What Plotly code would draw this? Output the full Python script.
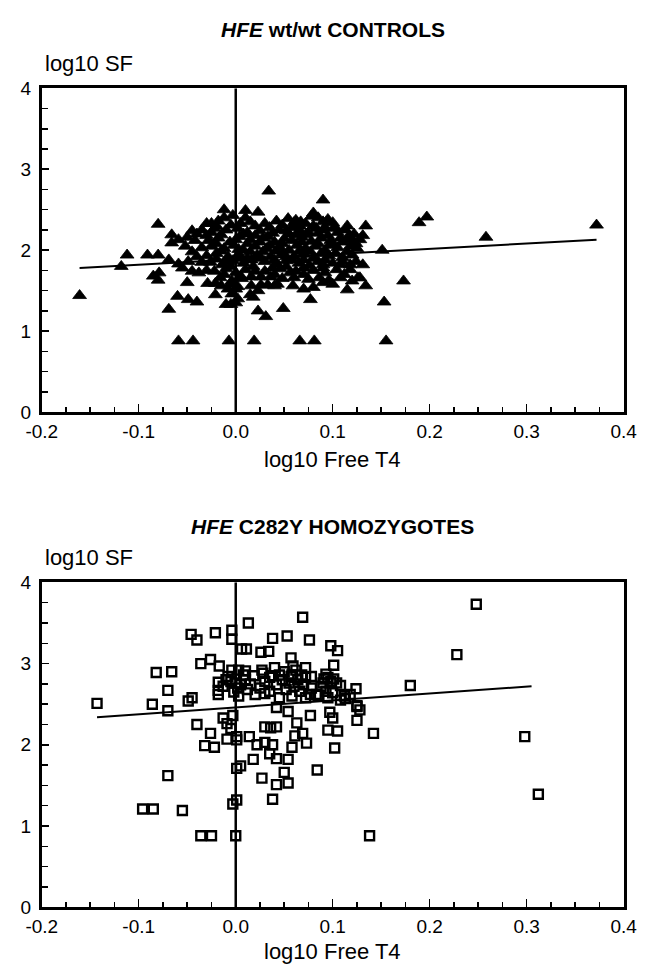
import plotly.graph_objects as go

# ---------------- data ----------------
# HFE wt/wt controls: (log10 Free T4, log10 SF)
controls = [
    (-0.161, 1.44), (-0.118, 1.80), (-0.112, 1.94), (-0.091, 1.94), (-0.080, 1.94), (-0.080, 2.32), (-0.069, 1.88), (-0.085, 1.68),
    (-0.080, 1.63), (-0.079, 1.72), (-0.069, 1.27), (-0.060, 1.43), (-0.049, 1.39), (-0.040, 1.36), (-0.050, 1.60), (-0.059, 1.83),
    (-0.049, 1.86), (-0.066, 2.19), (-0.066, 2.09), (-0.059, 2.13), (-0.050, 2.16), (-0.045, 2.24), (-0.040, 2.20), (-0.035, 2.25),
    (-0.030, 2.18), (-0.035, 2.03), (-0.045, 1.74), (-0.038, 1.72), (-0.030, 1.75), (-0.029, 1.59), (-0.021, 1.59), (-0.021, 1.45),
    (-0.015, 1.56), (-0.030, 2.33), (-0.025, 2.33), (-0.020, 2.30), (-0.012, 2.50), (-0.003, 2.43), (0.010, 2.49), (0.023, 2.47),
    (-0.012, 2.40), (0.010, 2.40), (0.034, 2.73), (0.090, 2.62), (0.080, 2.46), (0.134, 2.30), (0.102, 2.29), (0.090, 2.35),
    (0.090, 2.25), (0.054, 2.39), (0.062, 2.37), (0.067, 2.35), (0.108, 2.15), (0.118, 2.14), (0.131, 2.18), (0.151, 2.00),
    (0.098, 2.12), (0.098, 2.08), (0.131, 1.82), (0.090, 1.82), (0.108, 1.82), (0.118, 1.82), (0.062, 1.74), (0.070, 1.70),
    (0.043, 1.58), (0.059, 1.56), (0.080, 1.54), (0.090, 1.60), (0.100, 1.58), (0.115, 1.51), (0.128, 1.66), (0.134, 1.56),
    (0.077, 1.39), (0.049, 1.28), (0.031, 1.18), (0.023, 1.25), (0.153, 1.36), (0.018, 1.42), (0.016, 1.56), (0.026, 1.57),
    (0.033, 1.57), (0.040, 1.56), (0.016, 1.67), (0.026, 1.67), (0.036, 1.67), (0.015, 1.45), (0.023, 1.50), (-0.005, 1.33),
    (0.000, 1.35), (-0.010, 1.33), (0.372, 2.31), (0.258, 2.16), (0.189, 2.34), (0.197, 2.41), (0.173, 1.62), (0.128, 2.13),
    (0.119, 2.13), (0.126, 1.66), (0.092, 2.28), (0.102, 2.27),
    (-0.059, 0.88), (-0.044, 0.88), (-0.007, 0.88), (0.019, 0.88), (0.066, 0.88), (0.081, 0.88), (0.155, 0.88),
    (-0.006, 1.58), (0.000, 1.52), (-0.004, 1.46), (0.002, 1.40),
    (-0.052, 2.05), (-0.045, 1.98), (-0.040, 1.92), (-0.035, 1.85), (-0.055, 1.78), (-0.042, 2.12),
    (-0.018, 2.36), (0.005, 2.33), (0.020, 2.30), (0.035, 2.28), (0.048, 2.31), (0.058, 2.28), (0.072, 2.33), (0.085, 2.40),
    (0.095, 2.38), (0.078, 2.42), (0.060, 2.34),
    (-0.025, 2.22), (-0.010, 2.25), (0.002, 2.27), (0.012, 2.22), (0.025, 2.24), (0.038, 2.21), (0.045, 2.25), (0.055, 2.20),
    (0.066, 2.24), (0.075, 2.22), (0.083, 2.27), (0.105, 2.22), (0.113, 2.25), (0.122, 2.20),
    (-0.028, 2.12), (-0.018, 2.15), (-0.006, 2.10), (0.004, 2.17), (0.015, 2.13), (0.028, 2.15), (0.040, 2.10), (0.050, 2.14),
    (0.058, 2.12), (0.068, 2.16), (0.078, 2.11), (0.088, 2.15), (0.110, 2.10), (0.124, 2.08),
    (-0.025, 2.05), (-0.012, 2.02), (-0.002, 2.06), (0.008, 2.00), (0.020, 2.05), (0.032, 2.02), (0.045, 2.04), (0.055, 2.00),
    (0.063, 2.06), (0.072, 2.02), (0.082, 2.05), (0.092, 2.00), (0.105, 2.03), (0.115, 1.98), (0.125, 2.02),
    (-0.030, 1.93), (-0.020, 1.96), (-0.008, 1.92), (0.003, 1.95), (0.012, 1.90), (0.022, 1.94), (0.036, 1.92), (0.048, 1.96),
    (0.060, 1.92), (0.070, 1.95), (0.080, 1.90), (0.096, 1.93), (0.110, 1.91), (0.120, 1.94),
    (-0.026, 1.85), (-0.014, 1.82), (-0.003, 1.87), (0.008, 1.84), (0.018, 1.80), (0.030, 1.86), (0.042, 1.83), (0.052, 1.87),
    (0.065, 1.84), (0.076, 1.81), (0.085, 1.86), (0.100, 1.84), (0.124, 1.86),
    (-0.022, 1.74), (-0.010, 1.77), (0.000, 1.72), (0.010, 1.76), (0.030, 1.74), (0.046, 1.77), (0.056, 1.72), (0.080, 1.75),
    (0.092, 1.72), (0.104, 1.76), (0.112, 1.70),
    (-0.016, 1.66), (-0.004, 1.62), (0.006, 1.65), (0.048, 1.65), (0.086, 1.66), (0.096, 1.63), (0.120, 1.62),
    (-0.008, 1.52), (0.002, 1.55), (0.070, 1.52),
    (-0.022, 2.27), (-0.005, 2.31), (0.015, 2.35), (0.030, 2.33), (0.042, 2.36), (0.066, 2.30), (0.080, 2.30), (0.100, 2.34),
    (0.115, 2.30), (-0.015, 2.19), (0.008, 2.20), (0.020, 2.18), (0.033, 2.17), (0.052, 2.24), (0.062, 2.19), (0.072, 2.19),
    (0.085, 2.21), (0.095, 2.18), (0.117, 2.18), (-0.020, 2.08), (0.000, 2.13), (0.012, 2.08), (0.025, 2.10), (0.035, 2.06),
    (0.048, 2.08), (0.068, 2.10), (0.085, 2.08), (0.100, 2.06), (0.118, 2.05), (-0.015, 1.99), (0.003, 2.01), (0.015, 1.98),
    (0.028, 1.98), (0.042, 1.99), (0.052, 1.92), (0.065, 1.98), (0.077, 1.98), (0.088, 1.96), (0.103, 1.96), (-0.020, 1.89),
    (-0.008, 1.86), (0.004, 1.90), (0.016, 1.88), (0.026, 1.90), (0.040, 1.88), (0.058, 1.88), (0.070, 1.88), (0.092, 1.88),
    (0.110, 1.86), (-0.005, 1.80), (0.020, 1.74), (0.038, 1.78), (0.052, 1.80), (0.070, 1.78), (0.090, 1.78), (0.118, 1.76),
    (-0.012, 1.70), (0.005, 1.68), (0.040, 1.70), (0.060, 1.66), (0.075, 1.64), (0.108, 1.66),
]

# HFE C282Y homozygotes: (log10 Free T4, log10 SF)
homozygotes = [
    (-0.143, 2.51), (-0.086, 2.50), (-0.082, 2.89), (-0.066, 2.90), (-0.070, 2.67), (-0.070, 2.42), (-0.049, 2.54), (-0.045, 2.58),
    (-0.046, 3.36), (-0.040, 3.29), (-0.036, 3.00), (-0.026, 3.05), (-0.017, 2.97), (-0.021, 3.38), (-0.004, 3.41), (-0.004, 3.30),
    (0.013, 3.50), (0.069, 3.57), (0.038, 3.31), (0.053, 3.34), (0.076, 3.29), (0.006, 3.18), (0.011, 3.18), (0.026, 3.14),
    (0.034, 3.15), (-0.004, 2.92), (0.003, 2.92), (0.010, 2.91), (0.098, 3.22), (0.105, 3.16), (0.101, 2.98), (0.124, 2.69),
    (0.108, 2.73), (0.098, 2.78), (0.091, 2.81), (0.113, 2.57), (0.125, 2.47), (0.128, 2.43), (0.248, 3.73), (0.228, 3.11),
    (0.180, 2.73), (0.057, 3.07), (0.059, 2.97), (0.019, 2.85), (0.027, 2.92), (0.035, 2.83), (0.045, 2.86), (0.058, 2.86),
    (0.072, 2.83),
    (-0.040, 2.25), (-0.026, 2.14), (-0.032, 1.99), (-0.022, 1.97), (-0.013, 2.33), (-0.009, 2.26), (-0.003, 2.36), (-0.009, 2.07),
    (-0.005, 2.20), (0.001, 2.10), (0.001, 2.06), (0.014, 2.10), (0.022, 2.00), (0.030, 2.03), (0.038, 2.00), (0.030, 2.22),
    (0.042, 2.22), (0.036, 2.21), (0.042, 2.46), (0.054, 2.41), (0.063, 2.27), (0.077, 2.36), (0.061, 2.11), (0.069, 2.14),
    (0.073, 2.02), (0.058, 1.97), (0.035, 1.89), (0.042, 1.83), (0.054, 1.82), (0.018, 1.82), (0.001, 1.71), (0.005, 1.74),
    (0.050, 1.66), (0.054, 1.53), (0.042, 1.51), (0.027, 1.59), (0.038, 1.33), (0.001, 1.32), (-0.003, 1.27), (-0.070, 1.62),
    (-0.096, 1.21), (-0.085, 1.21), (-0.055, 1.19), (-0.036, 0.88), (-0.025, 0.88), (0.000, 0.88), (0.138, 0.88), (0.084, 1.69),
    (0.102, 1.96), (0.095, 2.18), (0.105, 2.17), (0.100, 2.33), (0.097, 2.40), (0.125, 2.30), (0.125, 2.48), (0.142, 2.14),
    (0.108, 2.55), (0.112, 2.60), (0.298, 2.10), (0.312, 1.39), (0.077, 2.62), (0.085, 2.61), (0.020, 2.62), (0.030, 2.63),
    (0.058, 2.60), (-0.018, 2.62),
    (0.078, 2.84), (0.078, 2.70), (0.093, 2.87), (0.095, 2.83), (0.101, 2.81),
    (0.025, 2.70), (0.030, 2.78), (0.035, 2.66), (0.038, 2.85), (0.042, 2.74), (0.045, 2.58), (0.048, 2.80), (0.050, 2.90),
    (0.052, 2.68), (0.055, 2.76), (0.057, 2.84), (0.060, 2.72), (0.062, 2.92), (0.064, 2.80), (0.066, 2.66), (0.068, 2.86),
    (0.070, 2.74), (0.072, 2.58), (0.083, 2.62), (0.088, 2.72), (0.090, 2.76), (0.093, 2.66), (0.095, 2.58), (0.100, 2.64),
    (0.104, 2.76), (0.118, 2.62), (0.028, 2.88), (0.040, 2.95), (0.015, 2.75), (0.012, 2.68), (0.072, 2.95),
    (-0.018, 2.77), (-0.018, 2.67), (-0.013, 2.72), (-0.010, 2.80), (-0.005, 2.78), (0.000, 2.76), (0.002, 2.70), (0.005, 2.74),
    (0.010, 2.80), (-0.002, 2.65), (0.003, 2.60), (-0.008, 2.84), (0.008, 2.86),
]

# regression lines (end points)
controls_fit_x = [-0.161, 0.372]
controls_fit_y = [1.78, 2.13]
homozygotes_fit_x = [-0.143, 0.305]
homozygotes_fit_y = [2.34, 2.72]

x_tickvals = [-0.2, -0.1, 0.0, 0.1, 0.2, 0.3, 0.4]
x_ticktext = ["-0.2", "-0.1", "0.0", "0.1", "0.2", "0.3", "0.4"]
y_tickvals = [0, 1, 2, 3, 4]
y_ticktext = ["0", "1", "2", "3", "4"]

titles = ["<b><i>HFE</i> wt/wt CONTROLS</b>", "<b><i>HFE</i> C282Y HOMOZYGOTES</b>"]
x_title = "log10 Free T4"
y_title = "log10 SF"

# ---------------- figure ----------------
W, H = 652, 973
FONT = "Liberation Sans, Arial, Helvetica, sans-serif"


def py(pix):
    return 1 - pix / H


def px(pix):
    return pix / W


x_dom = [px(27), px(637)]
top_dom = [py(411), py(80)]
bot_dom = [py(917), py(585)]

fig = go.Figure()

fig.add_trace(go.Scatter(
    x=[p[0] for p in controls], y=[p[1] for p in controls], mode="markers",
    marker=dict(symbol="triangle-up", size=12, color="black", line=dict(width=0.8, color="black")),
    xaxis="x", yaxis="y", showlegend=False))
fig.add_trace(go.Scatter(
    x=controls_fit_x, y=controls_fit_y, mode="lines", line=dict(color="black", width=2),
    xaxis="x", yaxis="y", showlegend=False))

fig.add_trace(go.Scatter(
    x=[p[0] for p in homozygotes], y=[p[1] for p in homozygotes], mode="markers",
    marker=dict(symbol="square-open", size=9, color="black", line=dict(width=2.4, color="black")),
    xaxis="x2", yaxis="y2", showlegend=False))
fig.add_trace(go.Scatter(
    x=homozygotes_fit_x, y=homozygotes_fit_y, mode="lines", line=dict(color="black", width=2),
    xaxis="x2", yaxis="y2", showlegend=False))

xaxis_common = dict(
    range=[-0.2, 0.4], tickvals=x_tickvals, ticktext=x_ticktext,
    showline=True, mirror=True, linecolor="black", linewidth=3,
    ticks="inside", ticklen=8, tickwidth=1.5, tickcolor="black",
    minor=dict(dtick=0.025, tick0=0, ticks="inside", ticklen=5, tickwidth=1.5, tickcolor="black"),
    showgrid=False, zeroline=False, fixedrange=True,
    tickfont=dict(family=FONT, size=19, color="black"),
)
yaxis_common = dict(
    range=[0, 4], tickvals=y_tickvals, ticktext=y_ticktext,
    showline=True, mirror=True, linecolor="black", linewidth=3,
    ticks="inside", ticklen=7, tickwidth=1.5, tickcolor="black",
    minor=dict(dtick=0.25, tick0=0, ticks="inside", ticklen=6, tickwidth=1.5, tickcolor="black"),
    showgrid=False, zeroline=False, fixedrange=True, ticklabelstandoff=4,
    tickfont=dict(family=FONT, size=19, color="black"),
)

fig.update_layout(
    width=W, height=H,
    margin=dict(l=0, r=0, t=0, b=0),
    paper_bgcolor="white", plot_bgcolor="white",
    font=dict(family=FONT, color="black"),
    hovermode=False,
    xaxis=dict(domain=x_dom, anchor="y", **xaxis_common),
    yaxis=dict(domain=top_dom, anchor="x", **yaxis_common),
    xaxis2=dict(domain=x_dom, anchor="y2", **xaxis_common),
    yaxis2=dict(domain=bot_dom, anchor="x2", **yaxis_common),
)

# vertical line at x = 0 in both panels
for xr, yr in (("x", "y"), ("x2", "y2")):
    fig.add_shape(type="line", xref=xr, yref=yr, x0=0, x1=0, y0=0, y1=4,
                  line=dict(color="black", width=2.5))

cx = (x_dom[0] + x_dom[1]) / 2
ann = []
for title, ty, ly, xy in ((titles[0], 20, 55, 459), (titles[1], 528, 560, 962)):
    ann.append(dict(text=title, x=cx, y=py(ty), xref="paper", yref="paper",
                    xanchor="center", yanchor="middle", showarrow=False,
                    font=dict(family=FONT, size=21, color="black")))
    ann.append(dict(text=y_title, x=px(28), y=py(ly), xref="paper", yref="paper",
                    xanchor="left", yanchor="middle", showarrow=False,
                    font=dict(family=FONT, size=22, color="black")))
    ann.append(dict(text=x_title, x=cx, y=py(xy), xref="paper", yref="paper",
                    xanchor="center", yanchor="middle", showarrow=False,
                    font=dict(family=FONT, size=22, color="black")))
fig.update_layout(annotations=ann)

# remove the browser's default 8px body margin so the figure fills the window exactly
fig.write_html("out.html", config={"displayModeBar": False, "staticPlot": True},
               post_script="document.body.style.margin='0px';")
